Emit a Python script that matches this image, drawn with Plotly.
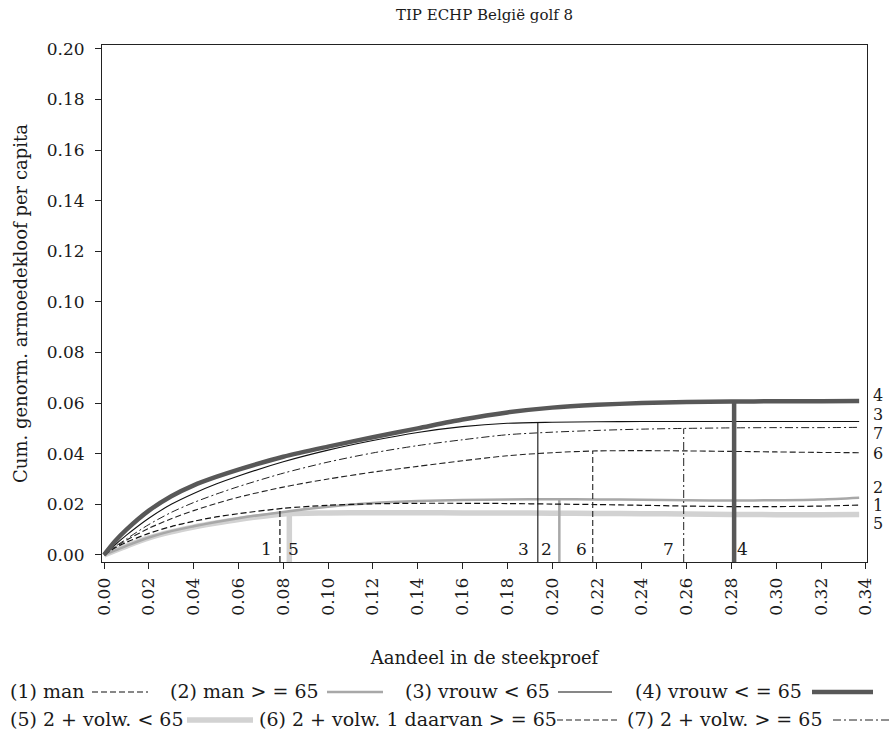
import numpy as np
import plotly.graph_objects as go

# ---------------- data ----------------
x_share = [0, 0.005, 0.01, 0.02, 0.03, 0.04, 0.05, 0.06, 0.08, 0.10, 0.12, 0.14,
           0.16, 0.18, 0.20, 0.22, 0.24, 0.26, 0.28, 0.30, 0.32, 0.337]

tip_1 = [0, .0028, .0050, .0085, .0112, .0133, .0150, .0163, .0184, .0196, .0202, .0204,
         .0204, .0203, .0201, .0199, .0196, .0193, .0191, .0191, .0193, .0197]
tip_2 = [0, .0018, .0036, .0069, .0094, .0113, .0130, .0145, .0170, .0190, .0205, .0213,
         .0217, .0219, .0220, .0219, .0218, .0216, .0215, .0216, .0219, .0226]
tip_3 = [0, .0040, .0078, .0145, .0200, .0243, .0280, .0312, .0368, .0414, .0452, .0484,
         .0507, .0520, .0524, .0526, .0527, .0527, .0527, .0527, .0527, .0527]
tip_4 = [0, .0055, .0100, .0175, .0232, .0275, .0308, .0337, .0388, .0428, .0465, .0500,
         .0535, .0563, .0582, .0593, .0600, .0604, .0606, .0607, .0607, .0608]
tip_5 = [0, .0018, .0035, .0067, .0091, .0110, .0126, .0140, .0162, .0166, .0167, .0167,
         .0166, .0166, .0165, .0164, .0163, .0162, .0160, .0159, .0159, .0160]
tip_6 = [0, .0030, .0058, .0105, .0143, .0175, .0203, .0228, .0268, .0300, .0327, .0350,
         .0372, .0392, .0404, .0411, .0412, .0411, .0409, .0407, .0405, .0404]
tip_7 = [0, .0033, .0063, .0120, .0168, .0207, .0240, .0270, .0323, .0367, .0403, .0432,
         .0455, .0475, .0485, .0492, .0497, .0500, .0502, .0503, .0503, .0504]

# poverty headcount (share of sample) per group -> vertical lines
headcount = {"1": 0.0785, "2": 0.2032, "3": 0.1936, "4": 0.2812,
             "5": 0.0827, "6": 0.2181, "7": 0.2587}

series_ids = ["1", "2", "3", "4", "5", "6", "7"]
series_vals = {"1": tip_1, "2": tip_2, "3": tip_3, "4": tip_4,
               "5": tip_5, "6": tip_6, "7": tip_7}
legend_labels = ["(1) man", "(2) man > = 65", "(3) vrouw < 65", "(4) vrouw < = 65",
                 "(5) 2 + volw. < 65", "(6) 2 + volw. 1 daarvan > = 65",
                 "(7) 2 + volw. > = 65"]

y_ticks = [0.00, 0.02, 0.04, 0.06, 0.08, 0.10, 0.12, 0.14, 0.16, 0.18, 0.20]
x_ticks = [0.00, 0.02, 0.04, 0.06, 0.08, 0.10, 0.12, 0.14, 0.16, 0.18,
           0.20, 0.22, 0.24, 0.26, 0.28, 0.30, 0.32, 0.34]

# ---------------- styles ----------------
FONT = "DejaVu Serif"
TXT = "#1a1a1a"
styles = {
    "1": dict(color="#111111", width=1.2, dash="6px,3px"),
    "2": dict(color="#a8a8a8", width=2.5, dash="solid"),
    "3": dict(color="#111111", width=1.1, dash="solid"),
    "4": dict(color="#585858", width=4.5, dash="solid"),
    "5": dict(color="#d2d2d2", width=5.5, dash="solid"),
    "6": dict(color="#222222", width=1.1, dash="6px,3px"),
    "7": dict(color="#222222", width=1.0, dash="8px,3px,2px,3px"),
}
draw_order = ["5", "2", "1", "6", "7", "3", "4"]

W, H = 891, 742
L, R, T, B = 102, 24, 45, 180
PW, PH = W - L - R, H - T - B
Y_MIN, Y_MAX = -0.0028, 0.2015
X_MIN, X_MAX = -0.0009, 0.3405


def px_x(px):
    return (px - L) / PW


def px_y(py):
    return (H - B - py) / PH


fig = go.Figure()
xs = np.array(x_share)
for sid in draw_order:
    ys = np.array(series_vals[sid])
    st = styles[sid]
    fig.add_trace(go.Scatter(x=xs, y=ys, mode="lines", showlegend=False,
                             line=dict(color=st["color"], width=st["width"], dash=st["dash"],
                                       shape="spline", smoothing=0.8),
                             hoverinfo="skip"))
    hc = headcount[sid]
    top = float(np.interp(hc, xs, ys))
    fig.add_trace(go.Scatter(x=[hc, hc], y=[Y_MIN, top], mode="lines", showlegend=False,
                             line=dict(color=st["color"], width=st["width"], dash=st["dash"]),
                             hoverinfo="skip"))

annotations = []
# labels at the bottom of each vertical line
bottom_label_side = {"1": ("right", -6), "5": ("left", -3), "3": ("right", -7),
                     "2": ("left", 1), "6": ("right", -4), "7": ("right", -8),
                     "4": ("left", 1)}
for sid, (anchor, shift) in bottom_label_side.items():
    xa = headcount["3"] if sid == "2" else headcount[sid]
    annotations.append(dict(x=xa, y=0.0022, xref="x", yref="y", text=sid,
                            showarrow=False, xanchor=anchor, yanchor="middle",
                            xshift=shift, font=dict(family=FONT, size=17, color=TXT)))

# right-hand labels
right_label_py = {"4": 395, "3": 414, "7": 433, "6": 453, "2": 487, "1": 505, "5": 523}
for sid, py in right_label_py.items():
    annotations.append(dict(x=px_x(872), y=px_y(py), xref="paper", yref="paper",
                            text=sid, showarrow=False, xanchor="left", yanchor="middle",
                            borderpad=0, font=dict(family=FONT, size=16, color=TXT)))

# legend: text followed by line sample
legend_rows = [691, 719]
legend_layout = [  # (row, text start px, line x0 px, line x1 px)
    (0, 8, 92, 148), (0, 168, 327, 383), (0, 403, 558, 612), (0, 633, 812, 873),
    (1, 8, 187, 253), (1, 257, 557, 617), (1, 625, 833, 890),
]
shapes = []
for i, (row, tx, lx0, lx1) in enumerate(legend_layout):
    py = legend_rows[row]
    annotations.append(dict(x=px_x(tx), y=px_y(py), xref="paper", yref="paper",
                            text=legend_labels[i], showarrow=False, xanchor="left",
                            yanchor="middle", font=dict(family=FONT, size=19, color=TXT)))
    st = styles[series_ids[i]]
    shapes.append(dict(type="line", xref="paper", yref="paper",
                       x0=px_x(lx0), x1=px_x(lx1), y0=px_y(py + 1), y1=px_y(py + 1),
                       line=dict(color=st["color"], width=st["width"], dash=st["dash"])))

axis_common = dict(showgrid=False, zeroline=False, showline=True, linecolor="#222222",
                   linewidth=1, mirror=True, ticks="outside", ticklen=6,
                   tickcolor="#222222", tickwidth=1,
                   tickfont=dict(family=FONT, size=17, color=TXT))

fig.update_layout(
    width=W, height=H, margin=dict(l=L, r=R, t=T, b=B, autoexpand=False),
    paper_bgcolor="white", plot_bgcolor="white",
    title=dict(text="TIP ECHP België golf 8", x=0.5, xref="paper", xanchor="center",
               y=1 - 15 / H, yanchor="middle", yref="container",
               font=dict(family=FONT, size=15, color=TXT)),
    xaxis=dict(range=[X_MIN, X_MAX], tickvals=x_ticks,
               ticktext=[f"{v:.2f}" for v in x_ticks], tickangle=-90,
               ticklabelstandoff=2,
               title=dict(text="Aandeel in de steekproef", standoff=36,
                          font=dict(family=FONT, size=18, color=TXT)),
               **axis_common),
    yaxis=dict(range=[Y_MIN, Y_MAX], tickvals=y_ticks,
               ticktext=[f"{v:.2f}" for v in y_ticks],
               ticklabelstandoff=7,
               title=dict(text="Cum. genorm. armoedekloof per capita", standoff=14,
                          font=dict(family=FONT, size=18, color=TXT)),
               **axis_common),
    annotations=annotations, shapes=shapes,
)

fig.write_html("out.html")
